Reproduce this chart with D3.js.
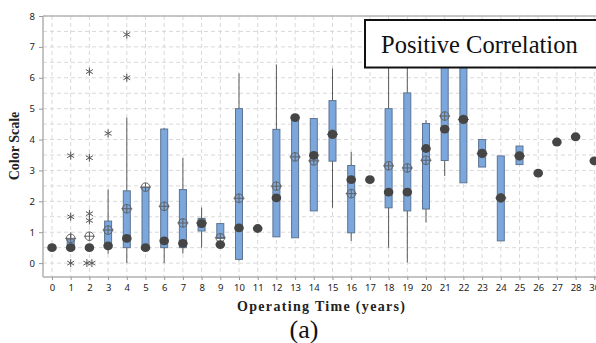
<!DOCTYPE html>
<html>
<head>
<meta charset="utf-8">
<script src="https://cdn.jsdelivr.net/npm/d3@7"></script>
<style>
  html, body { margin: 0; padding: 0; background: #fff; }
  svg { display: block; }
</style>
</head>
<body>
<svg id="chart" width="596" height="343"></svg>
<script>
// Operating time categories (years)
const categories = ["0","1","2","3","4","5","6","7","8","9","10","11","12","13","14",
  "15","16","17","18","19","20","21","22","23","24","25","26","27","28","30"];

// Box statistics per category (null = not drawn)
const q1Values     = [0.5, 0.5, 0.5, 0.5, 0.5, 0.5, 0.5, 0.5, 1.04, 0.80, 0.12, 1.12, 0.85, 0.82, 1.69,
  3.30, 0.98, 2.70, 1.79, 1.69, 1.75, 3.32, 2.60, 3.11, 0.72, 3.19, 2.91, 3.92, 4.09, 3.31];
const q3Values     = [0.5, 0.76, 0.5, 1.36, 2.34, 2.45, 4.34, 2.38, 1.45, 1.28, 5.00, 1.12, 4.33, 4.68, 4.68,
  5.26, 3.16, 2.70, 5.00, 5.51, 4.52, 6.90, 6.90, 4.00, 3.47, 3.79, 2.91, 3.92, 4.09, 3.31];
const whiskerLow   = [null, 0.5, null, 0.30, 0.0, null, 0.0, 0.31, 0.5, null, 0.08, null, 0.85, null, null,
  1.79, 0.72, null, 0.5, 0.02, 1.32, 2.82, null, null, null, null, null, null, null, null];
const whiskerHigh  = [null, 1.0, null, 2.39, 4.71, null, 4.38, 3.40, 1.80, null, 6.14, null, 6.43, null, null,
  6.30, 3.60, null, 6.90, 6.90, 4.63, 7.00, null, null, null, null, null, null, null, null];
const medianValues = [0.5, 0.5, 0.5, 0.56, 0.80, 0.5, 0.72, 0.64, 1.28, 0.60, 1.14, 1.12, 2.11, 4.71, 3.49,
  4.17, 2.70, 2.70, 2.30, 2.30, 3.71, 4.34, 4.65, 3.55, 2.11, 3.47, 2.91, 3.92, 4.09, 3.31];
const meanValues   = [null, 0.80, 0.87, 1.07, 1.76, 2.46, 1.84, 1.30, 1.30, 0.82, 2.10, null, 2.49, 3.44, 3.31,
  4.17, 2.25, null, 3.15, 3.08, 3.33, 4.76, 4.65, 3.55, 2.11, 3.47, null, null, null, null];

// Outlying observations: [category, value]
const outliers = [["1", 0.0], ["1", 1.5], ["1", 3.48],
  ["2", 0.0], ["2", 0.0], ["2", 1.38], ["2", 1.6], ["2", 3.41], ["2", 6.2],
  ["3", 4.2], ["4", 6.0], ["4", 7.4]];

const yTicks = [0, 1, 2, 3, 4, 5, 6, 7, 8];
const yGrid = d3.range(0, 8.01, 0.5);

const svg = d3.select("#chart");
const plotLeft = 43, plotRight = 596, plotTop = 16, plotBottom = 277;

const x = d3.scalePoint().domain(categories).range([52, 594.3]);
const y = d3.scaleLinear().domain([-0.45, 8]).range([plotBottom, plotTop]);

// Dashed grid
const grid = svg.append("g").attr("stroke", "#d9d9d9").attr("stroke-dasharray", "4,3").attr("stroke-width", 1);
grid.selectAll("line.h").data(yGrid).join("line").attr("class", "h")
  .attr("x1", plotLeft).attr("x2", plotRight).attr("y1", d => y(d)).attr("y2", d => y(d));
grid.selectAll("line.v").data(categories).join("line").attr("class", "v")
  .attr("x1", d => x(d)).attr("x2", d => x(d)).attr("y1", plotTop).attr("y2", plotBottom);

// Top frame line
svg.append("line").attr("x1", plotLeft).attr("x2", plotRight).attr("y1", plotTop).attr("y2", plotTop)
  .attr("stroke", "#b5b5b5").attr("stroke-width", 1.5);

// Axes
const yAxis = svg.append("g").attr("transform", `translate(${plotLeft},0)`)
  .call(d3.axisLeft(y).tickValues(yTicks).tickSize(4).tickPadding(4));
const xAxis = svg.append("g").attr("transform", `translate(0,${plotBottom})`)
  .call(d3.axisBottom(x).tickSize(3).tickPadding(4));
[yAxis, xAxis].forEach(a => {
  a.select(".domain").attr("stroke", "#b0b0b0").attr("stroke-width", 1.5);
  a.selectAll(".tick line").attr("stroke", "#999");
  a.selectAll(".tick text").attr("fill", "#222")
    .style("font-family", "'Noto Sans', sans-serif").style("font-size", "9.5px");
});
yAxis.select(".domain").attr("d", `M0,${plotTop}V${plotBottom}`);
xAxis.select(".domain").attr("d", `M${plotLeft},0H${plotRight}`);

const rows = categories.map((c, i) => ({
  c, q1: q1Values[i], q3: q3Values[i], lo: whiskerLow[i], hi: whiskerHigh[i],
  med: medianValues[i], mean: meanValues[i]
}));

// Whiskers
svg.append("g").selectAll("line").data(rows.filter(d => d.lo !== null)).join("line")
  .attr("x1", d => x(d.c)).attr("x2", d => x(d.c))
  .attr("y1", d => y(d.lo)).attr("y2", d => y(d.hi))
  .attr("stroke", "#5a5a5a").attr("stroke-width", 1);

// Boxes
const bw = 7;
svg.append("g").selectAll("rect").data(rows.filter(d => d.q3 > d.q1)).join("rect")
  .attr("x", d => x(d.c) - bw / 2).attr("width", bw)
  .attr("y", d => y(d.q3)).attr("height", d => y(d.q1) - y(d.q3))
  .attr("fill", "#7ba7dc").attr("stroke", "#5d7391").attr("stroke-width", 1);

// Outliers as asterisks; repeated values are spread sideways
const outG = svg.append("g").attr("stroke", "#555").attr("stroke-width", 1);
const groups = d3.group(outliers, d => d[0] + ":" + d[1]);
groups.forEach(list => {
  list.forEach(([c, v], k) => {
    const cx = x(c) + (k - (list.length - 1) / 2) * 5;
    const cy = y(v);
    const r = 4;
    [[0, 1], [0.866, 0.5], [0.866, -0.5]].forEach(([dx, dy]) => {
      outG.append("line").attr("x1", cx - dx * r).attr("x2", cx + dx * r)
        .attr("y1", cy - dy * r).attr("y2", cy + dy * r);
    });
  });
});

// Means: circled cross
const meanG = svg.append("g").selectAll("g").data(rows.filter(d => d.mean !== null)).join("g")
  .attr("transform", d => `translate(${x(d.c)},${y(d.mean)})`)
  .attr("stroke", "#606060").attr("stroke-width", 1).attr("fill", "none");
meanG.append("circle").attr("r", 4.3);
meanG.append("line").attr("x1", -5.5).attr("x2", 5.5);
meanG.append("line").attr("y1", -4.3).attr("y2", 4.3);

// Medians: filled dots
svg.append("g").selectAll("ellipse").data(rows).join("ellipse")
  .attr("cx", d => x(d.c)).attr("cy", d => y(d.med)).attr("rx", 4.8).attr("ry", 4.4)
  .attr("fill", "#454545");

// Annotation box
svg.append("rect").attr("x", 365).attr("y", 20).attr("width", 240).attr("height", 47.5)
  .attr("fill", "#fff").attr("stroke", "#111").attr("stroke-width", 2);
svg.append("text").attr("x", 381).attr("y", 53)
  .style("font-family", "'Liberation Serif', 'Times New Roman', serif").style("font-size", "24.5px")
  .attr("fill", "#111").text("Positive Correlation");

// Axis titles
svg.append("text").attr("transform", "translate(19,146) rotate(-90)").attr("text-anchor", "middle")
  .style("font-family", "'Liberation Serif', serif").style("font-size", "14px").style("font-weight", "bold")
  .attr("fill", "#222").text("Color Scale");
svg.append("text").attr("x", 321).attr("y", 311).attr("text-anchor", "middle")
  .attr("textLength", 168).attr("lengthAdjust", "spacing")
  .style("font-family", "'Liberation Serif', serif").style("font-size", "14px").style("font-weight", "bold")
  .attr("fill", "#222").text("Operating Time (years)");
svg.append("text").attr("x", 304).attr("y", 338).attr("text-anchor", "middle")
  .style("font-family", "'Liberation Serif', serif").style("font-size", "26px")
  .attr("fill", "#111").text("(a)");
</script>
</body>
</html>
